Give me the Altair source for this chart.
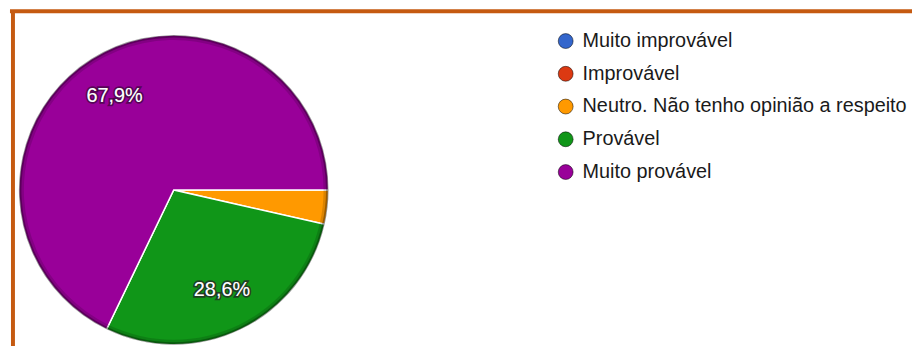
import math
import pandas as pd
import altair as alt

categories = [
    "Muito improvável",
    "Improvável",
    "Neutro. Não tenho opinião a respeito",
    "Provável",
    "Muito provável",
]
counts = [0, 0, 1, 8, 19]
colors = ["#3366cc", "#dc3912", "#ff9900", "#109618", "#990099"]

total = sum(counts)
labels = []
for c in counts:
    p = c / total * 100
    labels.append((f"{p:.1f}".replace(".", ",") + "%") if p >= 5 else "")

df = pd.DataFrame({
    "cat": categories,
    "count": counts,
    "idx": list(range(len(categories))),
    "label": labels,
})

CX, CY, R = 165, 180, 156

base = alt.Chart(df).encode(
    theta=alt.Theta("count:Q", stack=True,
                    scale=alt.Scale(range=[math.pi / 2, math.pi / 2 + 2 * math.pi])),
    order=alt.Order("idx:Q"),
)

pie = base.mark_arc(outerRadius=R, x=CX, y=CY, stroke="white", strokeWidth=1.5).encode(
    color=alt.Color(
        "cat:N",
        sort=categories,
        scale=alt.Scale(domain=categories, range=colors),
        legend=alt.Legend(
            title=None,
            orient="none",
            legendX=550,
            legendY=20,
            symbolType="circle",
            symbolSize=225,
            symbolStrokeWidth=1,
            symbolStrokeColor="rgba(0,0,0,0.5)",
            labelFontSize=20,
            labelFont="Liberation Sans",
            labelColor="#1a1a1a",
            labelOffset=7,
            rowPadding=13,
            labelLimit=500,
            padding=0,
        ),
    )
)

rim1 = base.mark_arc(innerRadius=R - 5, outerRadius=R, x=CX, y=CY,
                     fill="black", fillOpacity=0.14)
rim2 = base.mark_arc(innerRadius=R - 2.5, outerRadius=R, x=CX, y=CY,
                     fill="black", fillOpacity=0.3)

shadow = base.mark_text(radius=112, x=CX, y=CY, fontSize=20, font="Liberation Sans",
                        stroke="#2a0a2a", strokeWidth=3.5, strokeOpacity=0.6,
                        fill="white").encode(text="label:N")
text = base.mark_text(radius=112, x=CX, y=CY, fontSize=20, font="Liberation Sans",
                      fill="white").encode(text="label:N")

frame_df = pd.DataFrame({"a": [0]})
top_border = alt.Chart(frame_df).mark_rule(color="#c55a11", strokeWidth=4).encode(
    x=alt.value(0), x2=alt.value(911), y=alt.value(0)
)
left_border = alt.Chart(frame_df).mark_rule(color="#c55a11", strokeWidth=4).encode(
    x=alt.value(3), y=alt.value(0), y2=alt.value(338)
)

chart = alt.layer(pie, rim1, rim2, shadow, text, top_border, left_border).properties(
    width=911,
    height=338,
    autosize=alt.AutoSizeParams(type="fit", contains="padding"),
    padding=0,
    background="white",
).configure_view(stroke=None)

chart.save("out.html", embed_options={"renderer": "svg", "actions": False})
